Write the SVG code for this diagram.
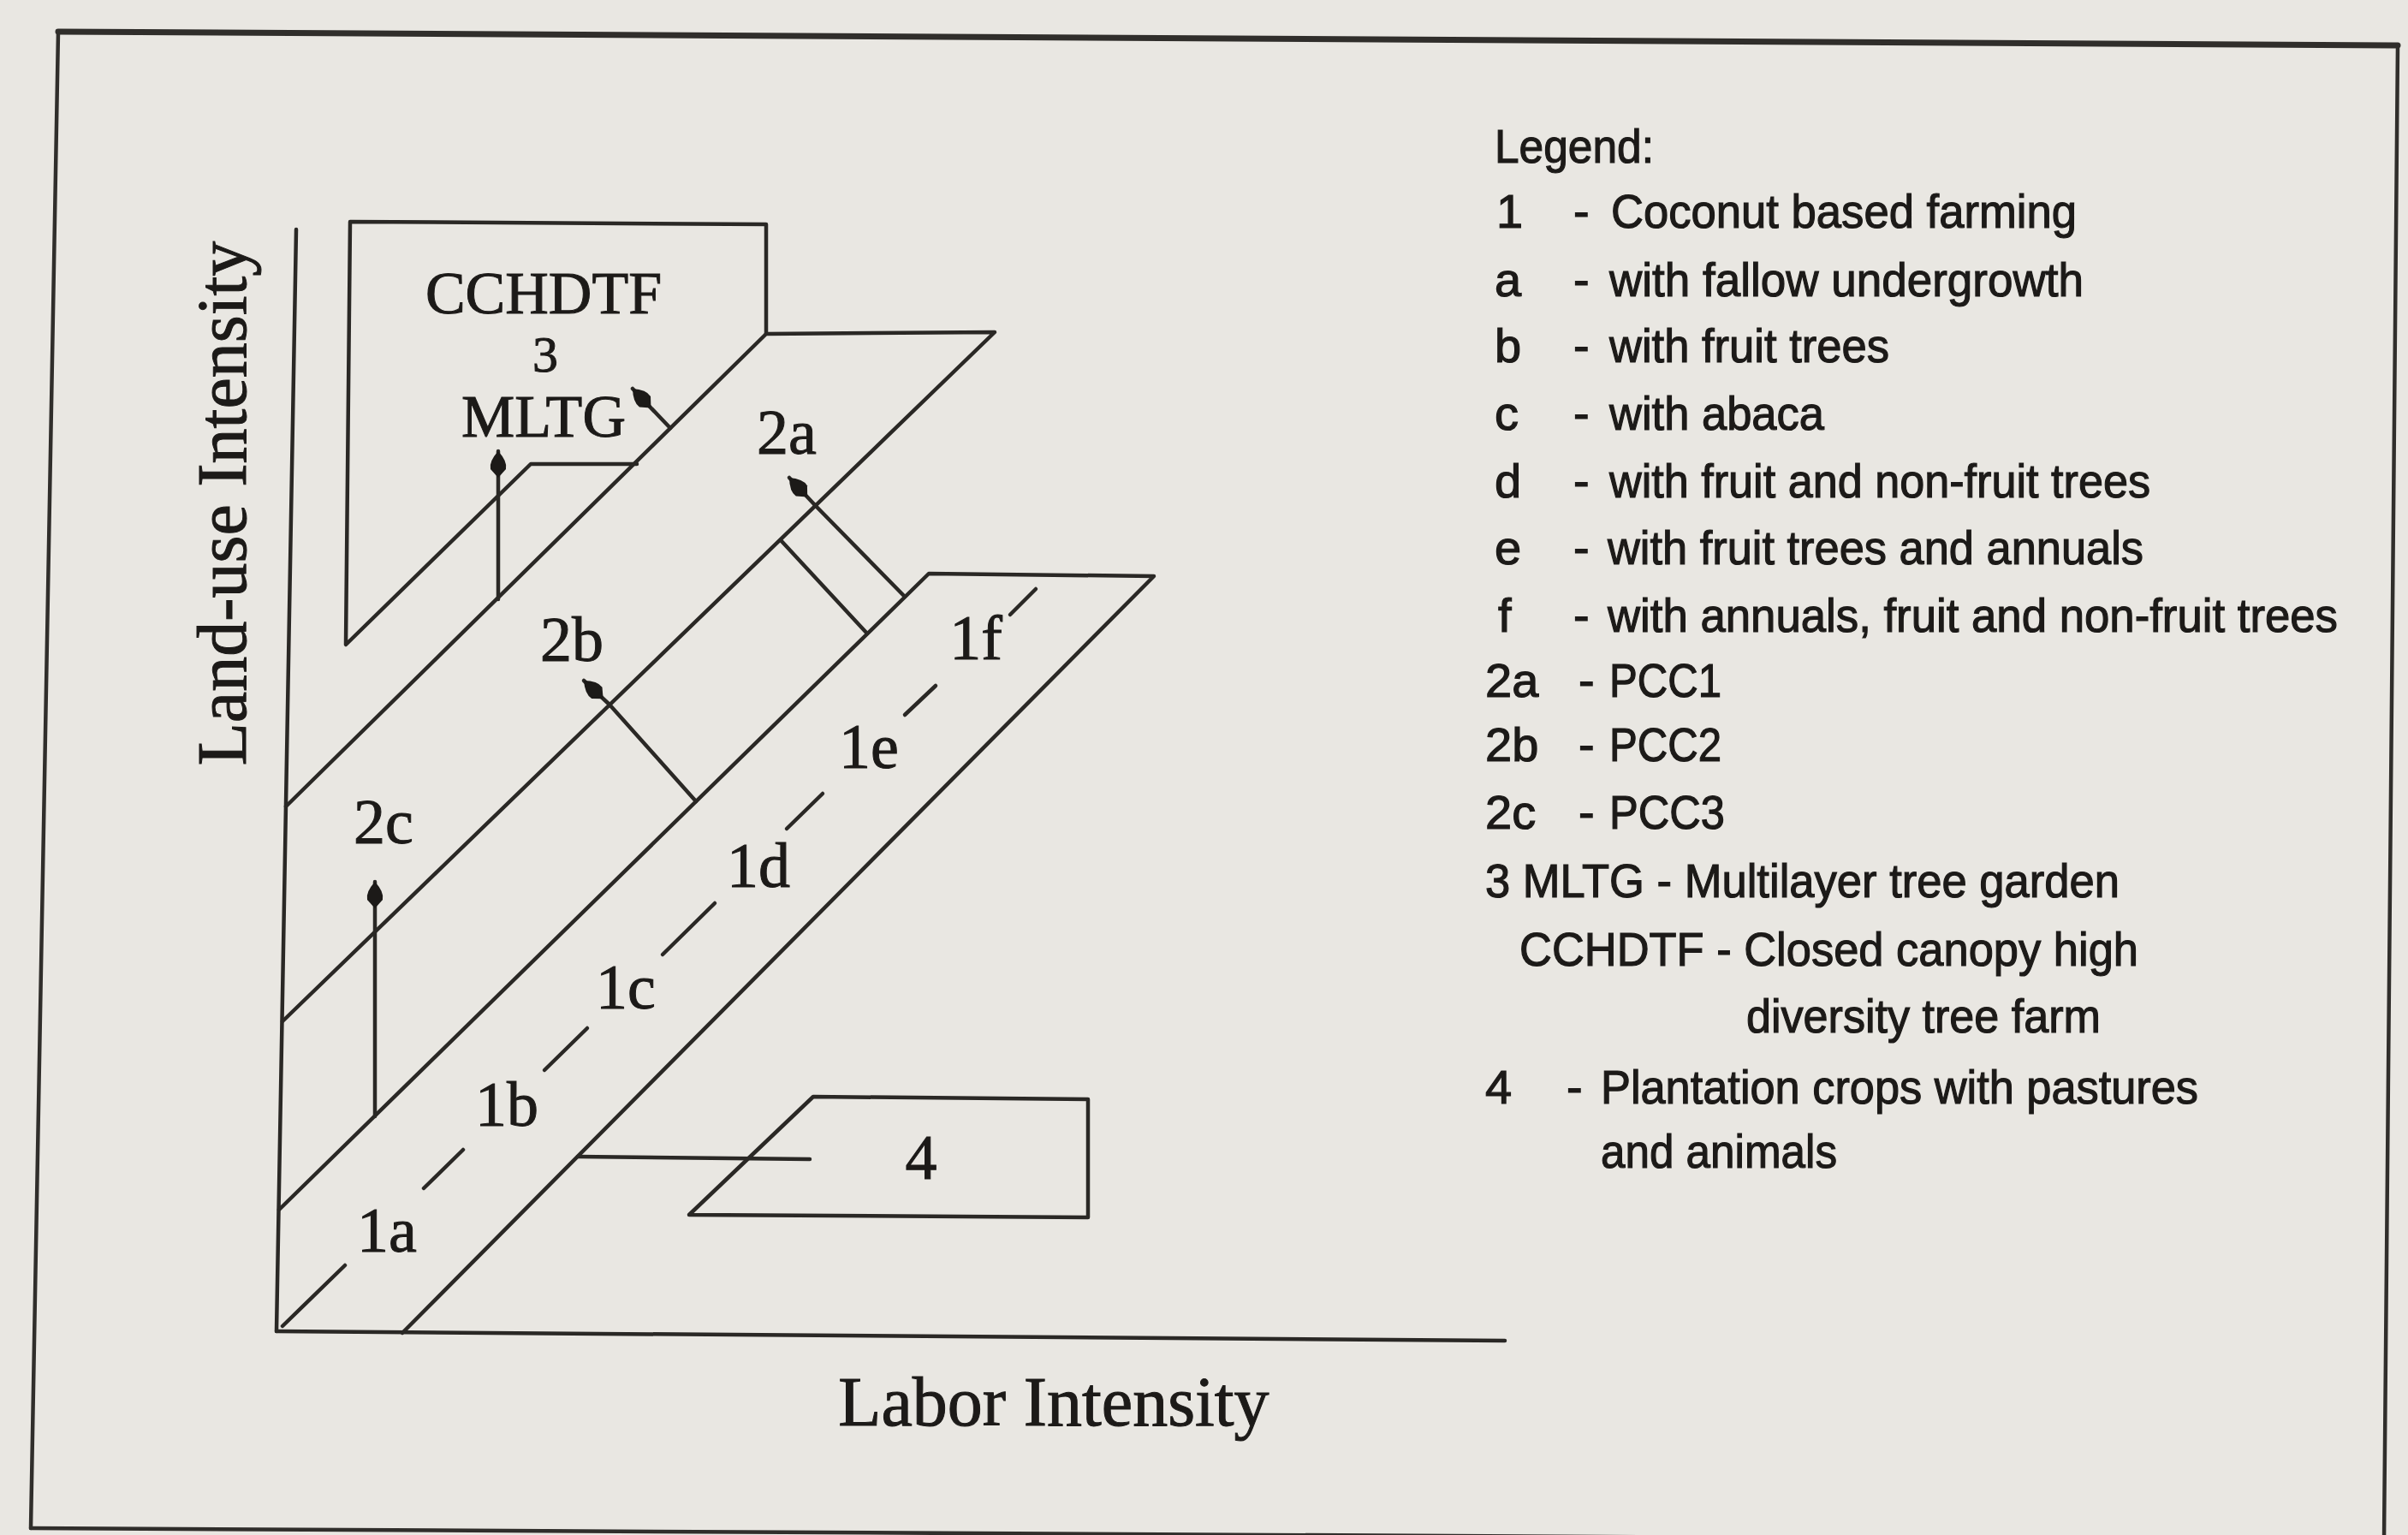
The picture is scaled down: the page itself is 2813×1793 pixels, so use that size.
<svg xmlns="http://www.w3.org/2000/svg" width="2813" height="1793" viewBox="0 0 2813 1793">
<style>
.ln{fill:none;stroke:#2a2825;stroke-width:4.5;stroke-linecap:round;stroke-linejoin:round}
.fr{fill:none;stroke:#302e2b;stroke-width:4.5;stroke-linecap:round}
.sf{font-family:"Liberation Serif","Times New Roman",serif;fill:#1c1a18;stroke:#1c1a18;stroke-width:1}
.lb{font-size:74px;text-anchor:middle}
.bx{font-size:70px;text-anchor:middle}
.ax{font-size:82px;text-anchor:middle}
.lg{font-family:"Liberation Sans",Arial,sans-serif;font-size:56px;fill:#1c1a18;stroke:#1c1a18;stroke-width:1.2}
</style>
<defs>
<marker id="ah" markerUnits="userSpaceOnUse" viewBox="-34 -13 36 26" markerWidth="36" markerHeight="26" refX="0" refY="0" orient="auto">
<path d="M0,0 Q-12,-11 -21,-9 L-31,0 L-21,9 Q-12,11 0,0 Z" fill="#1c1a18"/>
</marker>
</defs>
<rect x="0" y="0" width="2813" height="1793" fill="#e9e7e2"/>

<g id="frame">
<line class="fr" x1="68" y1="37" x2="2801" y2="53" style="stroke-width:7"/>
<line class="fr" x1="68" y1="37" x2="36" y2="1785"/>
<line class="fr" x1="36" y1="1785" x2="2785" y2="1800"/>
<line class="fr" x1="2801" y1="53" x2="2785" y2="1800"/>
</g>

<g id="axes">
<line class="ln" x1="346" y1="268" x2="323" y2="1555"/>
<line class="ln" x1="323" y1="1555" x2="1758" y2="1566"/>
<text class="sf ax" transform="translate(287,588) rotate(-90)">Land-use Intensity</text>
<text class="sf ax" x="1231" y="1665">Labor Intensity</text>
</g>

<g id="node-3">
<path class="ln" d="M744,542 L620,542 L404,753 L409,259 L895,262 L895,390"/>
<text class="sf bx" x="635" y="366">CCHDTF</text>
<text class="sf" x="637" y="434" style="font-size:60px;text-anchor:middle">3</text>
<text class="sf bx" x="635" y="510">MLTG</text>
</g>

<g id="node-2">
<path class="ln" d="M334,942 L895,390 L1162,388 L330,1193"/>
<text class="sf lb" x="919" y="530">2a</text>
<text class="sf lb" x="668" y="772">2b</text>
<text class="sf lb" x="448" y="985">2c</text>
</g>

<g id="node-1">
<path class="ln" d="M326,1413 L1085,670 L1348,673 L470,1557"/>
<g class="ln">
<line x1="330" y1="1549" x2="403" y2="1478"/>
<line x1="495" y1="1388" x2="541" y2="1343"/>
<line x1="636" y1="1250" x2="686" y2="1201"/>
<line x1="774" y1="1115" x2="835" y2="1055"/>
<line x1="919" y1="968" x2="961" y2="927"/>
<line x1="1057" y1="835" x2="1093" y2="801"/>
<line x1="1180" y1="718" x2="1210" y2="688"/>
</g>
<text class="sf lb" x="452" y="1462">1a</text>
<text class="sf lb" x="592" y="1315">1b</text>
<text class="sf lb" x="731" y="1178">1c</text>
<text class="sf lb" x="886" y="1036">1d</text>
<text class="sf lb" x="1015" y="897">1e</text>
<text class="sf lb" x="1140" y="770">1f</text>
</g>

<g id="node-4">
<path class="ln" d="M805,1419 L950,1281 L1271,1284 L1271,1422 Z"/>
<text class="sf lb" x="1076" y="1377">4</text>
</g>

<g id="connectors">
<line class="ln" x1="582" y1="700" x2="582" y2="527" marker-end="url(#ah)"/>
<line class="ln" x1="783" y1="500" x2="739" y2="454" marker-end="url(#ah)"/>
<line class="ln" x1="1057" y1="697" x2="952" y2="590"/>
<line class="ln" x1="952" y1="590" x2="922" y2="558" marker-end="url(#ah)"/>
<line class="ln" x1="912" y1="631" x2="1013" y2="740"/>
<line class="ln" x1="813" y1="936" x2="712" y2="823"/>
<line class="ln" x1="712" y1="823" x2="682" y2="795" marker-end="url(#ah)"/>
<line class="ln" x1="438" y1="1304" x2="438" y2="1030" marker-end="url(#ah)"/>
<line class="ln" x1="675" y1="1351" x2="946" y2="1354"/>
</g>

<g id="legend">
<text class="lg" x="1746" y="190" textLength="186" lengthAdjust="spacingAndGlyphs">Legend:</text>
<text class="lg" x="1748" y="266">1</text><text class="lg" x="1838" y="266">-</text><text class="lg" x="1882" y="266" textLength="544" lengthAdjust="spacingAndGlyphs">Coconut based farming</text>
<text class="lg" x="1746" y="346">a</text><text class="lg" x="1838" y="346">-</text><text class="lg" x="1880" y="346" textLength="554" lengthAdjust="spacingAndGlyphs">with fallow undergrowth</text>
<text class="lg" x="1746" y="423">b</text><text class="lg" x="1838" y="423">-</text><text class="lg" x="1880" y="423" textLength="327" lengthAdjust="spacingAndGlyphs">with fruit trees</text>
<text class="lg" x="1746" y="502">c</text><text class="lg" x="1838" y="502">-</text><text class="lg" x="1880" y="502" textLength="251" lengthAdjust="spacingAndGlyphs">with abaca</text>
<text class="lg" x="1746" y="581">d</text><text class="lg" x="1838" y="581">-</text><text class="lg" x="1880" y="581" textLength="632" lengthAdjust="spacingAndGlyphs">with fruit and non-fruit trees</text>
<text class="lg" x="1746" y="659">e</text><text class="lg" x="1838" y="659">-</text><text class="lg" x="1878" y="659" textLength="626" lengthAdjust="spacingAndGlyphs">with fruit trees and annuals</text>
<text class="lg" x="1750" y="738">f</text><text class="lg" x="1838" y="738">-</text><text class="lg" x="1878" y="738" textLength="853" lengthAdjust="spacingAndGlyphs">with annuals, fruit and non-fruit trees</text>
<text class="lg" x="1735" y="814">2a</text><text class="lg" x="1844" y="814">-</text><text class="lg" x="1880" y="814" textLength="131" lengthAdjust="spacingAndGlyphs">PCC1</text>
<text class="lg" x="1735" y="889">2b</text><text class="lg" x="1844" y="889">-</text><text class="lg" x="1880" y="889" textLength="131" lengthAdjust="spacingAndGlyphs">PCC2</text>
<text class="lg" x="1735" y="968">2c</text><text class="lg" x="1844" y="968">-</text><text class="lg" x="1880" y="968" textLength="135" lengthAdjust="spacingAndGlyphs">PCC3</text>
<text class="lg" x="1735" y="1048" textLength="741" lengthAdjust="spacingAndGlyphs">3 MLTG - Multilayer tree garden</text>
<text class="lg" x="1775" y="1128" textLength="723" lengthAdjust="spacingAndGlyphs">CCHDTF - Closed canopy high</text>
<text class="lg" x="2040" y="1206" textLength="414" lengthAdjust="spacingAndGlyphs">diversity tree farm</text>
<text class="lg" x="1735" y="1289">4</text><text class="lg" x="1830" y="1289">-</text><text class="lg" x="1870" y="1289" textLength="698" lengthAdjust="spacingAndGlyphs">Plantation crops with pastures</text>
<text class="lg" x="1870" y="1364" textLength="276" lengthAdjust="spacingAndGlyphs">and animals</text>
</g>
</svg>
